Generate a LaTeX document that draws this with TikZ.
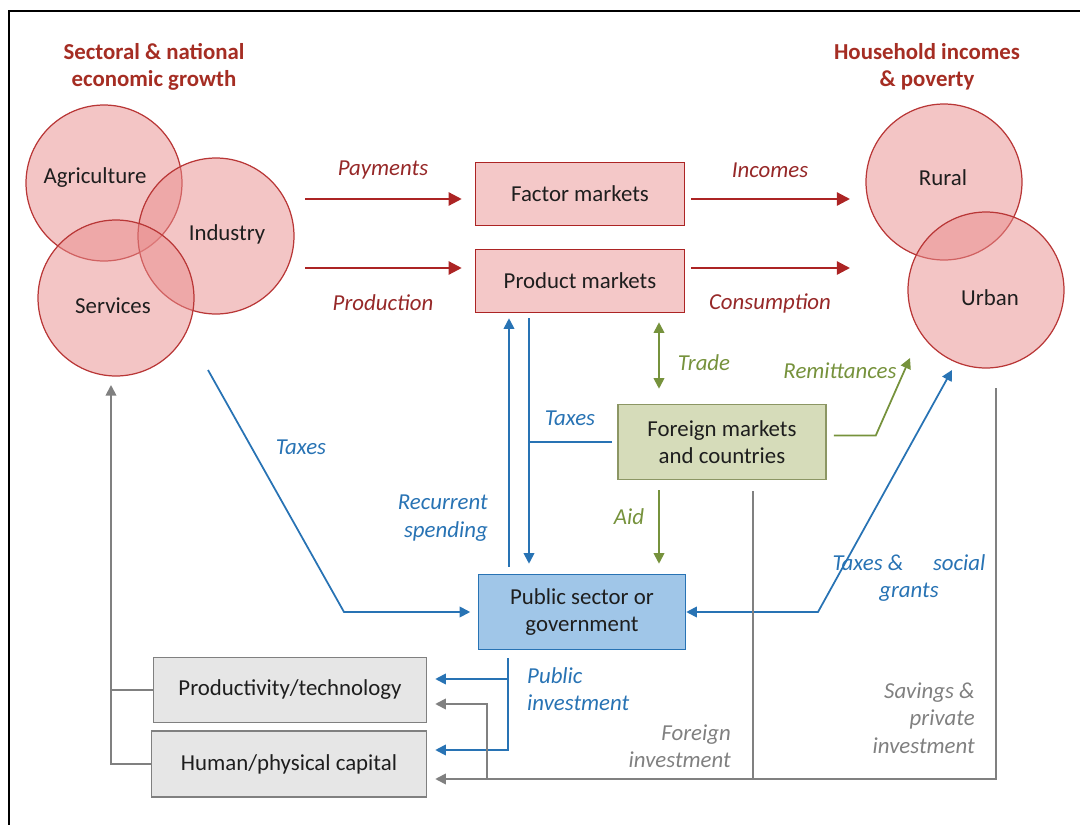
\documentclass[tikz,border=0pt]{standalone}
\usepackage{fontspec}
\setmainfont{Carlito}
\usetikzlibrary{arrows.meta}
\usetikzlibrary{positioning}
\definecolor{darkred}{RGB}{172,36,36}
\definecolor{titlered}{RGB}{165,45,35}
\definecolor{labelred}{RGB}{150,40,40}
\definecolor{circfill}{RGB}{232,140,140}
\definecolor{circline}{RGB}{185,55,55}
\definecolor{boxpink}{RGB}{244,200,200}
\definecolor{govblue}{RGB}{40,115,180}
\definecolor{govfill}{RGB}{160,198,232}
\definecolor{tradegreen}{RGB}{118,146,60}
\definecolor{foreignfill}{RGB}{214,220,186}
\definecolor{foreignline}{RGB}{140,150,100}
\definecolor{flowgray}{RGB}{128,128,128}
\definecolor{boxgray}{RGB}{230,230,230}
\definecolor{ink}{RGB}{30,30,30}

\begin{document}
\begin{tikzpicture}[x=0.02cm,y=-0.02cm,font=\fontsize{13}{15.6}\selectfont]
	\tikzset{
	  sector/.style={circle,draw=circline,line width=0.7pt,fill=circfill,fill opacity=0.5,minimum size=3.12cm,inner sep=0pt},
	  title/.style={text=titlered,font=\fontsize{13}{15.6}\selectfont\bfseries,align=center},
	  box/.style={text=ink,align=center,inner sep=0pt},
	  market/.style={box,draw=darkred,line width=0.9pt,fill=boxpink,minimum width=4.18cm,minimum height=1.26cm},
	  flow/.style={font=\fontsize{13}{15.6}\selectfont\itshape},
	  redarrow/.style={draw=darkred,line width=1.3pt,-{Triangle[length=7.5pt,width=7.5pt]}},
	  bluearrow/.style={draw=govblue,line width=1pt,-{Triangle[length=6pt,width=6pt]}},
	  blueline/.style={draw=govblue,line width=1pt},
	  greenarrow/.style={draw=tradegreen,line width=1pt,-{Triangle[length=6pt,width=6pt]}},
	  grayarrow/.style={draw=flowgray,line width=1pt,-{Triangle[length=6pt,width=6pt]}},
	  grayline/.style={draw=flowgray,line width=1pt}
	}
	\useasboundingbox (0,0) rectangle (1080,825);
	%FRAME
	\draw[line width=1.1pt] (9,840) -- (9,11) -- (1090,11);
	%TITLES
	\node[title] (growth title) at (154,67) {Sectoral \& national\\economic growth};
	\node[title] (household title) at (927,67) {Household incomes\\\& poverty};
	%CIRCLES
	\node[sector] (agri) at (104,183) {};
	\node[sector] (industry) at (216,236) {};
	\node[sector] (services) at (116,298) {};
	\node[sector] (rural) at (944,182) {};
	\node[sector] (urban) at (986,290) {};
	\node[box] (agri lbl) at (95,178) {Agriculture};
	\node[box] (industry lbl) at (227,234) {Industry};
	\node[box] (services lbl) at (113,306) {Services};
	\node[box] (rural lbl) at (943,178) {Rural};
	\node[box] (urban lbl) at (990,298) {Urban};
	%BOXES
	\node[market] (factor) at (580,194) {Factor markets};
	\node[market] (product) at (580,281) {Product markets};
	\node[box,draw=foreignline,line width=0.9pt,fill=foreignfill,minimum width=4.16cm,minimum height=1.5cm] (foreign) at (722,442) {Foreign markets\\and countries};
	\node[box,draw=govblue,line width=0.9pt,fill=govfill,minimum width=4.14cm,minimum height=1.5cm] (public) at (582,612) {Public sector or\\government};
	\node[box,draw=flowgray,line width=0.9pt,fill=boxgray,minimum width=5.46cm,minimum height=1.3cm] (prodtech) at (290,690) {Productivity/technology};
	\node[box,draw=flowgray,line width=0.9pt,fill=boxgray,minimum width=5.5cm,minimum height=1.32cm] (capital) at (289,764) {Human/physical capital};
	%FREE ENDS
	\coordinate (pay) at (305,199);
	\coordinate (prod) at (305,268);
	\coordinate (inc) at (850,199);
	\coordinate (cons) at (850,268);
	\coordinate (trade) at (659,0);
	\coordinate (recur) at (509,0);
	\coordinate (taxdown) at (529,0);
	\coordinate (taxsrc) at (208,370);
	\coordinate (taxbend) at (344,612);
	\coordinate (remit) at (910,358);
	\coordinate (grants) at (952,370);
	\coordinate (grantbend) at (818,612);
	\coordinate (pubinv) at (508,0);
	\coordinate (fdi) at (753,0);
	\coordinate (fdibranch) at (487,0);
	\coordinate (savings) at (996,388);
	\coordinate (feedback) at (111,385);
	\coordinate (pt blue) at ([yshift=0.22cm]prodtech.east);
	\coordinate (pt gray) at ([yshift=-0.28cm]prodtech.east);
	\coordinate (hc blue) at ([yshift=0.28cm]capital.east);
	\coordinate (hc gray) at ([yshift=-0.3cm]capital.east);
	%RED FLOWS
	\draw[redarrow] (pay) -- ([xshift=-0.26cm]factor.west |- pay);
	\draw[redarrow] (prod) -- ([xshift=-0.26cm]product.west |- prod);
	\draw[redarrow] ([xshift=0.12cm]factor.east |- inc) -- (inc);
	\draw[redarrow] ([xshift=0.12cm]product.east |- cons) -- (cons);
	%GREEN FLOWS
	\draw[greenarrow,{Triangle[length=6pt,width=6pt]}-{Triangle[length=6pt,width=6pt]},shorten <=0.18cm,shorten >=0.3cm] (trade |- product.south) -- (trade |- foreign.north);
	\draw[greenarrow,shorten <=0.2cm,shorten >=0.2cm] (trade |- foreign.south) -- (trade |- public.north);
	\draw[greenarrow] ([shift={(0.14cm,0.13cm)}]foreign.east) -- ++(42,0) -- (remit);
	%BLUE FLOWS
	\draw[bluearrow,shorten <=0.14cm,shorten >=0.1cm] (recur |- public.north) -- (recur |- product.south);
	\draw[bluearrow,shorten <=0.1cm,shorten >=0.2cm] (taxdown |- product.south) -- (taxdown |- public.north);
	\draw[blueline] ([xshift=-0.1cm]foreign.west) -- (taxdown |- foreign.west);
	\draw[bluearrow,shorten >=0.15cm] (taxsrc) -- (taxbend) -- (public.west);
	\draw[bluearrow,{Triangle[length=6pt,width=6pt]}-{Triangle[length=6pt,width=6pt]}] (public.east) -- (grantbend) -- (grants);
	\draw[bluearrow,shorten <=0.16cm,shorten >=0.16cm] (pubinv |- public.south) |- (hc blue);
	\draw[bluearrow,shorten >=0.16cm] (pubinv |- pt blue) -- (pt blue);
	%GRAY FLOWS
	\draw[grayarrow,shorten <=0.22cm,shorten >=0.16cm] (fdi |- foreign.south) |- (hc gray);
	\draw[grayarrow,shorten >=0.16cm] (fdibranch |- hc gray) |- (pt gray);
	\draw[grayline] (savings) |- (fdi |- hc gray);
	\draw[grayarrow] (prodtech.west) -| (feedback);
	\draw[grayline] (capital.west) -| (feedback |- prodtech.west);
	%LABELS
	\node[flow,text=labelred] (payments lbl) at (383,170) {Payments};
	\node[flow,text=labelred] (production lbl) at (383,303) {Production};
	\node[flow,text=labelred] (incomes lbl) at (770,170) {Incomes};
	\node[flow,text=labelred] (consumption lbl) at (770,303) {Consumption};
	\node[flow,text=tradegreen] (trade lbl) at (704,363) {Trade};
	\node[flow,text=tradegreen] (aid lbl) at (629,517) {Aid};
	\node[flow,text=tradegreen] (remit lbl) at (840,371) {Remittances};
	\node[flow,text=govblue] (taxes left lbl) at (301,447) {Taxes};
	\node[flow,text=govblue] (taxes mid lbl) at (570,418) {Taxes};
	\node[flow,text=govblue,align=right,anchor=east] (recur lbl) at (494,518) {Recurrent\\spending};
	\node[flow,text=govblue,align=center] (grants lbl) at (909,578) {Taxes \&\hspace{1.3em}social\\grants};
	\node[flow,text=govblue,align=left,anchor=west] (pubinv lbl) at (521,689) {Public\\investment};
	\node[flow,text=flowgray,align=right,anchor=east] (fdi lbl) at (737,746) {Foreign\\investment};
	\node[flow,text=flowgray,align=right,anchor=east] (savings lbl) at (981,718) {Savings \&\\private\\investment};
\end{tikzpicture}
\end{document}
